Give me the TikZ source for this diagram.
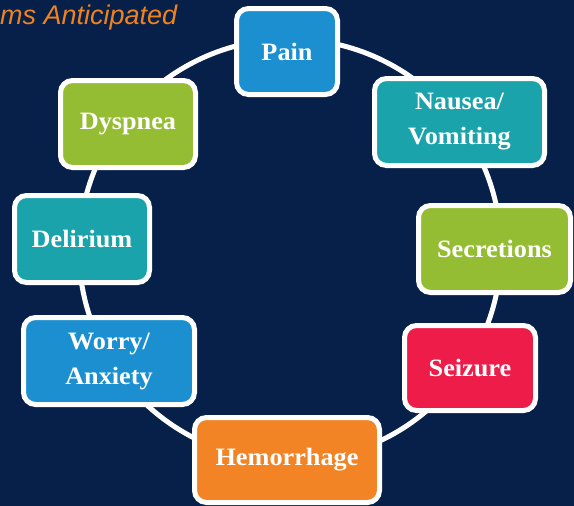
\documentclass[tikz,border=0pt]{standalone}
\usepackage{fontspec}
\setmainfont{Liberation Serif}[FakeStretch=1.05]
\newfontfamily\titlefont{Liberation Sans}
\definecolor{bgnavy}{RGB}{6,32,73}
\definecolor{cblue}{RGB}{27,143,207}
\definecolor{cteal}{RGB}{26,163,170}
\definecolor{cgreen}{RGB}{149,189,51}
\definecolor{cred}{RGB}{237,28,73}
\definecolor{corange}{RGB}{242,132,38}
\definecolor{ctitle}{RGB}{240,130,30}
\tikzset{
  symbox/.style={rectangle, rounded corners=12pt, draw=white, line width=5pt,
    text=white, align=center, inner sep=0pt,
    font=\fontsize{25}{35}\selectfont\bfseries},
  ring/.style={draw=white, line width=5pt}
}
\begin{document}
\begin{tikzpicture}[x=1pt,y=-1pt]
\fill[bgnavy] (0,0) rectangle (574,506);
\useasboundingbox (0,0) rectangle (574,506);
\node[anchor=base west, inner sep=0pt, text=ctitle,
  font=\titlefont\fontsize{27}{30}\selectfont\itshape] (title) at (0,24) {ms Anticipated};
\draw[ring] (290,250) circle (211);
\node[symbox, fill=cblue, minimum width=101pt, minimum height=86pt] (pain) at (287,51.5) {Pain};
\node[symbox, fill=cteal, minimum width=170pt, minimum height=87pt] (nausea) at (459.5,122) {Nausea/\\Vomiting};
\node[symbox, fill=cgreen, minimum width=152pt, minimum height=87pt] (secretions) at (494.5,249) {Secretions};
\node[symbox, fill=cred, minimum width=131pt, minimum height=85pt] (seizure) at (470,368) {Seizure};
\node[symbox, fill=corange, minimum width=185pt, minimum height=85pt] (hemorrhage) at (287,460) {Hemorrhage};
\node[symbox, fill=cblue, minimum width=171pt, minimum height=87pt] (worry) at (109,361) {Worry/\\Anxiety};
\node[symbox, fill=cteal, minimum width=135pt, minimum height=87pt] (delirium) at (82,239) {Delirium};
\node[symbox, fill=cgreen, minimum width=135pt, minimum height=87pt] (dyspnea) at (128,124) {Dyspnea};
\end{tikzpicture}
\end{document}
